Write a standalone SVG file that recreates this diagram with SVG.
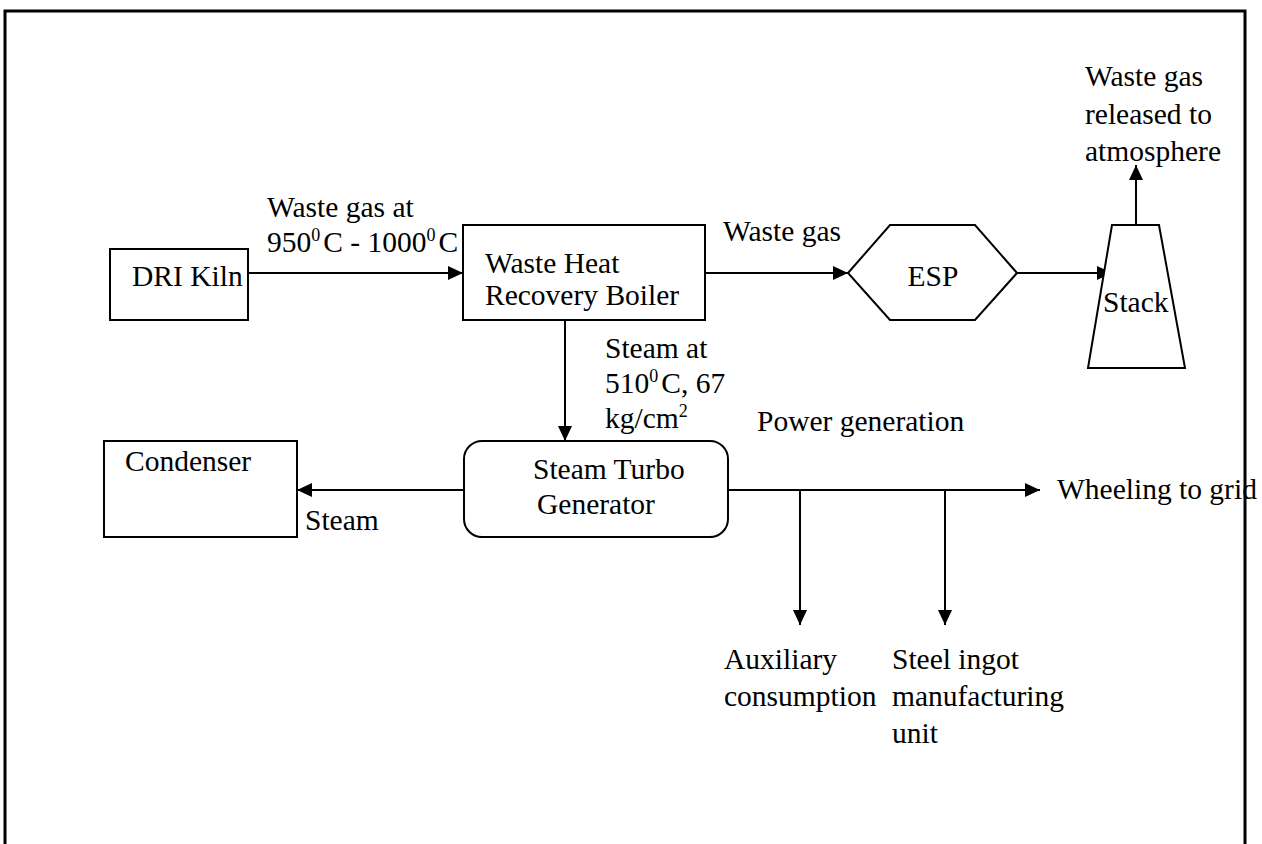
<svg xmlns="http://www.w3.org/2000/svg" width="1262" height="844" viewBox="0 0 1262 844">
<defs>
<marker id="ah" markerUnits="userSpaceOnUse" markerWidth="16" markerHeight="14" refX="15" refY="7" orient="auto">
<path d="M0,0 L15,7 L0,14 Z" fill="#000"/>
</marker>
</defs>
<style>
text{font-family:"Liberation Serif","Times New Roman",serif;font-size:29.5px;fill:#000}
.box{fill:#fff;stroke:#000;stroke-width:2}
.ln{fill:none;stroke:#000;stroke-width:2}
.sup{font-size:18px}
</style>
<rect width="1262" height="844" fill="#fff"/>
<path d="M5,844 V11 H1245 V844" fill="none" stroke="#000" stroke-width="3"/>
<g id="connectors">
<line class="ln" x1="248" y1="273" x2="463" y2="273" marker-end="url(#ah)"/>
<line class="ln" x1="705" y1="273" x2="848" y2="273" marker-end="url(#ah)"/>
<line class="ln" x1="1017" y1="273" x2="1112" y2="273" marker-end="url(#ah)"/>
<line class="ln" x1="1136" y1="225" x2="1136" y2="165" marker-end="url(#ah)"/>
<line class="ln" x1="565" y1="320" x2="565" y2="441" marker-end="url(#ah)"/>
<line class="ln" x1="464" y1="490" x2="297" y2="490" marker-end="url(#ah)"/>
<line class="ln" x1="728" y1="490" x2="1040" y2="490" marker-end="url(#ah)"/>
<line class="ln" x1="800" y1="490" x2="800" y2="625" marker-end="url(#ah)"/>
<line class="ln" x1="945" y1="490" x2="945" y2="625" marker-end="url(#ah)"/>
</g>
<g id="dri-kiln">
<rect class="box" x="110" y="249" width="138" height="71"/>
<text x="132" y="286">DRI Kiln</text>
</g>
<g id="whrb">
<rect class="box" x="463" y="225" width="242" height="95"/>
<text x="485" y="273">Waste Heat</text>
<text x="485" y="305">Recovery Boiler</text>
</g>
<g id="esp">
<polygon class="box" points="848,273 890,225 975,225 1017,273 975,320 890,320"/>
<text x="933" y="286" text-anchor="middle">ESP</text>
</g>
<g id="stack">
<polygon class="box" points="1112,225 1159,225 1185,368 1088,368"/>
<text x="1103" y="312">Stack</text>
</g>
<g id="turbine">
<rect class="box" x="464" y="441" width="264" height="96" rx="18"/>
<text x="533" y="479">Steam Turbo</text>
<text x="537" y="514">Generator</text>
</g>
<g id="condenser">
<rect class="box" x="104" y="441" width="193" height="96"/>
<text x="125" y="471">Condenser</text>
</g>
<g id="labels">
<text x="267" y="217">Waste gas at</text>
<text x="267" y="252">950<tspan class="sup" dy="-11">0</tspan><tspan dx="3" dy="11">C - 1000</tspan><tspan class="sup" dy="-11">0</tspan><tspan dx="3" dy="11">C</tspan></text>
<text x="723" y="241">Waste gas</text>
<text x="1085" y="86">Waste gas</text>
<text x="1085" y="124">released to</text>
<text x="1085" y="161">atmosphere</text>
<text x="605" y="358">Steam at</text>
<text x="605" y="393">510<tspan class="sup" dy="-11">0</tspan><tspan dx="3" dy="11">C, 67</tspan></text>
<text x="605" y="428">kg/cm<tspan class="sup" dy="-11">2</tspan></text>
<text x="757" y="431">Power generation</text>
<text x="305" y="530">Steam</text>
<text x="1057" y="499">Wheeling to grid</text>
<text x="724" y="669">Auxiliary</text>
<text x="724" y="706">consumption</text>
<text x="892" y="669">Steel ingot</text>
<text x="892" y="706">manufacturing</text>
<text x="892" y="743">unit</text>
</g>
</svg>
